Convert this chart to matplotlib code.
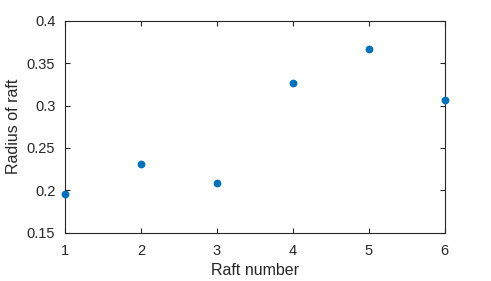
import matplotlib
matplotlib.use("Agg")
import matplotlib.pyplot as plt

# raft data
raft_number = [1, 2, 3, 4, 5, 6]
raft_radius = [0.196, 0.231, 0.209, 0.327, 0.367, 0.306]

x_ticks = [1, 2, 3, 4, 5, 6]
y_ticks = [0.15, 0.2, 0.25, 0.3, 0.35, 0.4]
y_tick_labels = ["0.15", "0.2", "0.25", "0.3", "0.35", "0.4"]

plt.rcParams["font.family"] = ["Liberation Sans", "DejaVu Sans"]

fig = plt.figure(figsize=(4.91, 2.81), dpi=100)
ax = fig.add_axes([0.1324, 0.1719, 0.7733, 0.7544])

ax.plot(raft_number, raft_radius, linestyle="none", marker="o",
        markersize=4.6, color="#0072BD", clip_on=False, zorder=3)

ax.set_xlim(1, 6)
ax.set_ylim(0.15, 0.4)
ax.set_xticks(x_ticks)
ax.set_yticks(y_ticks)
ax.set_yticklabels(y_tick_labels)

dark = "#262626"
for s in ax.spines.values():
    s.set_color(dark)
    s.set_linewidth(0.8)
ax.tick_params(direction="in", top=True, right=True, length=3.5, width=0.8,
               colors=dark, labelsize=10.5)
ax.tick_params(axis="x", pad=8)
ax.tick_params(axis="y", pad=7)

ax.set_xlabel("Raft number", fontsize=11.5, color=dark, labelpad=4)
ax.set_ylabel("Radius of raft", fontsize=11.5, color=dark, labelpad=4)

fig.savefig("out.png", dpi=100)
